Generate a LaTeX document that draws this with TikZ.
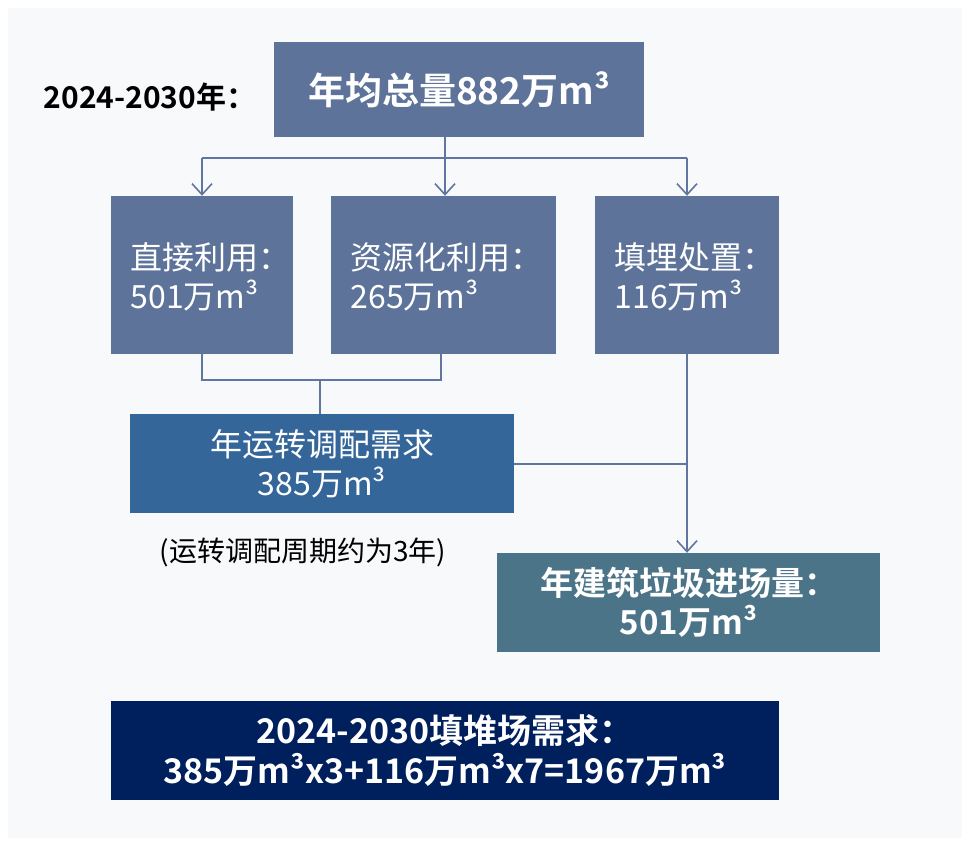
\documentclass[tikz,border=0pt]{standalone}
\usepackage{fontspec}
\setmainfont{Noto Sans CJK SC}[BoldFont={Noto Sans CJK SC Bold}]
\usetikzlibrary{arrows.meta,positioning}
\definecolor{bg}{HTML}{F8F9FB}
\definecolor{boxgray}{HTML}{5E7399}
\definecolor{boxblue}{HTML}{346699}
\definecolor{boxteal}{HTML}{4C7489}
\definecolor{boxnavy}{HTML}{001F5D}
\definecolor{linec}{HTML}{6076A0}
\tikzset{
  box/.style={draw=none, inner sep=0pt, text=white, align=center},
  conn/.style={draw=linec, line width=2pt},
  arr/.style={conn, -{Straight Barb[length=11pt,width=20pt,line width=1.6pt]}},
}
\begin{document}
\begin{tikzpicture}[x=1pt,y=-1pt]
\useasboundingbox (0,0) rectangle (968,843);
\fill[bg] (8,8) rectangle (962,838);
% boxes
\node[box, fill=boxgray, minimum width=370pt, minimum height=95pt, font=\fontsize{37}{44}\selectfont\bfseries] (top) at (459,89.5) {年均总量882万m³};
\node[anchor=center, font=\fontsize{30}{34}\selectfont\bfseries] (lbl) at (150,97) {2024-2030年：};
\node[box, fill=boxgray, minimum width=182pt, minimum height=158pt] (b1) at (202,275) {};
\node[box, fill=boxgray, minimum width=225pt, minimum height=158pt] (b2) at (443.5,275) {};
\node[box, fill=boxgray, minimum width=184pt, minimum height=158pt] (b3) at (687,275) {};
\node[text=white, align=left, anchor=west, font=\fontsize{32}{39}\selectfont] (t1) at (127,277) {直接利用：\\501万m³};
\node[text=white, align=left, anchor=west, font=\fontsize{32}{39}\selectfont] (t2) at (347,277) {资源化利用：\\265万m³};
\node[text=white, align=left, anchor=west, font=\fontsize{32}{39}\selectfont] (t3) at (611,277) {填埋处置：\\116万m³};
\node[box, fill=boxblue, minimum width=384pt, minimum height=99pt, font=\fontsize{32}{39}\selectfont] (b4) at (322,463.5) {年运转调配需求\\385万m³};
\node[font=\fontsize{28}{32}\selectfont] (note) at (303,552) {(运转调配周期约为3年)};
\node[box, fill=boxteal, minimum width=383pt, minimum height=99pt, font=\fontsize{33}{39}\selectfont\bfseries] (b5) at (688.5,602.5) {年建筑垃圾进场量：\\501万m³};
\node[box, fill=boxnavy, minimum width=668pt, minimum height=99pt, font=\fontsize{34}{40}\selectfont\bfseries] (b6) at (445,750.5) {2024-2030填堆场需求：\\385万m³x3+116万m³x7=1967万m³};
% connectors
\coordinate (tp) at (445,137);
\coordinate (split) at (445,158);
\draw[conn] (tp) -- (split);
\draw[conn] (split -| b1.north) -- (split -| b3.north);
\draw[arr] (split -| b1.north) -- (b1.north);
\draw[arr] (split) -- (split |- b2.north);
\draw[arr] (split -| b3.north) -- (b3.north);
\coordinate (jl) at (b1.south |- 0,380);
\coordinate (jr) at (441,380);
\draw[conn] (b1.south) -- (jl) -- (jr) -- (jr |- b2.south);
\coordinate (jm) at (320,380);
\draw[conn] (jm) -- (jm |- b4.north);
\coordinate (mj) at (b3.south |- b4.east);
\draw[conn] (b4.east) -- (mj);
\draw[arr] (b3.south) -- (b3.south |- b5.north);
\end{tikzpicture}
\end{document}
